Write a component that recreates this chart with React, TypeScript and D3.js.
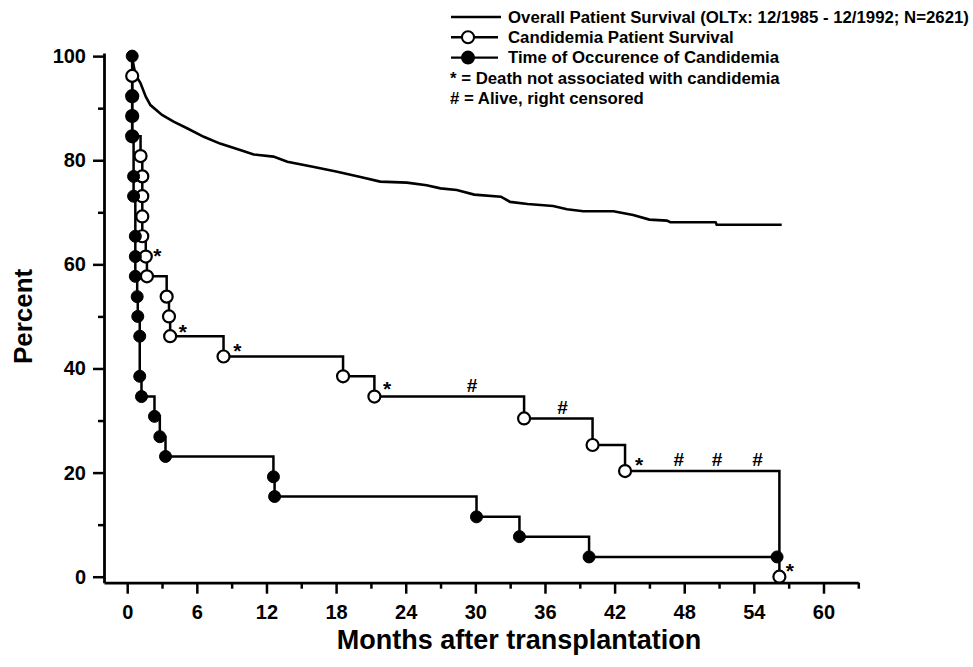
import React, { useEffect, useRef } from "react";
import * as d3 from "d3";

const WIDTH = 973;
const HEIGHT = 667;
const FONT = "'Liberation Sans', Arial, sans-serif";

// Overall patient survival (OLTx 12/1985 - 12/1992, N=2621)
const overallMonths = [0.4, 0.7, 1.15, 1.6, 2.0, 3.0, 4.0, 5.2, 6.6, 8.0, 9.8, 10.9, 12.6, 13.8, 16.1, 18.1, 20.1, 21.8, 24.1, 25.8, 27.0, 28.4, 29.9, 32.2, 33.0, 34.5, 36.7, 37.9, 39.3, 41.9, 43.6, 45.0, 46.5, 46.8, 50.7, 50.8, 56.4];
const overallPct = [100, 96.5, 94.8, 92.2, 90.6, 88.7, 87.4, 86.1, 84.5, 83.2, 81.9, 81.1, 80.7, 79.7, 78.7, 77.8, 76.8, 75.9, 75.7, 75.2, 74.6, 74.3, 73.4, 73.0, 72.0, 71.6, 71.2, 70.6, 70.2, 70.2, 69.5, 68.6, 68.4, 68.1, 68.1, 67.6, 67.6];

// Candidemia patient survival (open circles), first point = start of curve
const candMonths = [0.43, 0.43, 0.43, 0.43, 0.43, 1.15, 1.3, 1.3, 1.3, 1.3, 1.6, 1.7, 3.4, 3.6, 3.7, 8.3, 18.6, 21.3, 34.2, 40.1, 42.9, 56.2];
const candPct = [100, 96.2, 92.3, 88.5, 84.6, 80.8, 76.9, 73.1, 69.2, 65.4, 61.5, 57.7, 53.8, 50.0, 46.2, 42.3, 38.5, 34.6, 30.4, 25.3, 20.3, 0];

// Time of occurrence of candidemia (filled circles)
const occMonths = [0.43, 0.43, 0.43, 0.43, 0.55, 0.55, 0.7, 0.7, 0.7, 0.86, 0.91, 1.08, 1.08, 1.23, 2.35, 2.81, 3.3, 12.6, 12.7, 30.1, 33.8, 39.8, 56.0];
const occPct = [100, 92.3, 88.5, 84.6, 76.9, 73.1, 65.4, 61.5, 57.7, 53.8, 50.0, 46.2, 38.5, 34.6, 30.8, 26.9, 23.1, 19.2, 15.4, 11.5, 7.7, 3.8, 3.8];

// "*" deaths not associated with candidemia, "#" alive / right censored
const deathMonths = [2.6, 4.8, 9.5, 22.4, 44.1, 57.1];
const deathPct = [62.6, 48.1, 44.5, 37.1, 22.6, 2.2];
const censorMonths = [29.7, 37.5, 47.5, 50.8, 54.3];
const censorPct = [36.8, 32.6, 22.5, 22.5, 22.5];

const xMajor = [0, 6, 12, 18, 24, 30, 36, 42, 48, 54, 60];
const xMinor = [3, 9, 15, 21, 27, 33, 39, 45, 51, 57, 63];
const yMajor = [0, 20, 40, 60, 80, 100];
const yMinor = [10, 30, 50, 70, 90];

const legendLabels = [
  "Overall Patient Survival (OLTx: 12/1985 - 12/1992; N=2621)",
  "Candidemia Patient Survival",
  "Time of Occurence of Candidemia",
  "* = Death not associated with candidemia",
  "# = Alive, right censored",
];

const App = () => {
  const svgRef = useRef<SVGSVGElement | null>(null);

  useEffect(() => {
    if (!svgRef.current) return;
    const svg = d3.select(svgRef.current);
    svg.selectAll("*").remove();

    const x = d3.scaleLinear().domain([-2, 63]).range([104, 858.3]);
    const y = d3.scaleLinear().domain([-1.15, 100.6]).range([582.7, 53]);

    // axes
    const styleAxis = (g: any, fontSize: number) => {
      g.selectAll("path").attr("stroke", "#000").attr("stroke-width", 2.8);
      g.selectAll("line").attr("stroke", "#000").attr("stroke-width", 2.5);
      g.selectAll("text")
        .attr("fill", "#000")
        .style("font-family", FONT)
        .style("font-weight", "bold")
        .style("font-size", fontSize + "px");
    };

    const gx = svg.append("g").attr("transform", `translate(0,${y.range()[0]})`);
    gx.call(d3.axisBottom(x).tickValues(xMajor).tickSize(11).tickPadding(11).tickSizeOuter(0));
    styleAxis(gx, 20);
    const gxm = svg.append("g").attr("transform", `translate(0,${y.range()[0]})`);
    gxm.call(d3.axisBottom(x).tickValues(xMinor).tickSize(6).tickFormat(() => "").tickSizeOuter(0));
    gxm.select("path").remove();
    styleAxis(gxm, 20);

    const gy = svg.append("g").attr("transform", `translate(${x.range()[0]},0)`);
    gy.call(d3.axisLeft(y).tickValues(yMajor).tickSize(11).tickPadding(7).tickSizeOuter(0));
    styleAxis(gy, 20);
    const gym = svg.append("g").attr("transform", `translate(${x.range()[0]},0)`);
    gym.call(d3.axisLeft(y).tickValues(yMinor).tickSize(6).tickFormat(() => "").tickSizeOuter(0));
    gym.select("path").remove();
    styleAxis(gym, 20);

    // axis titles
    svg.append("text")
      .attr("x", 519).attr("y", 649)
      .attr("text-anchor", "middle")
      .style("font-family", FONT).style("font-weight", "bold").style("font-size", "27px")
      .text("Months after transplantation");
    svg.append("text")
      .attr("transform", `translate(32,${(y(0) + y(100)) / 2}) rotate(-90)`)
      .attr("text-anchor", "middle")
      .style("font-family", FONT).style("font-weight", "bold").style("font-size", "26px")
      .text("Percent");

    // overall survival
    const overall = overallMonths.map((m, i) => [m, overallPct[i]] as [number, number]);
    const lineLin = d3.line<[number, number]>().x(d => x(d[0])).y(d => y(d[1]));
    svg.append("path").datum(overall)
      .attr("d", lineLin).attr("fill", "none").attr("stroke", "#000").attr("stroke-width", 2.6);

    const stepLine = d3.line<[number, number]>().x(d => x(d[0])).y(d => y(d[1])).curve(d3.curveStepAfter);

    const cand = candMonths.map((m, i) => [m, candPct[i]] as [number, number]);
    const occ = occMonths.map((m, i) => [m, occPct[i]] as [number, number]);

    svg.append("path").datum(cand)
      .attr("d", stepLine).attr("fill", "none").attr("stroke", "#000").attr("stroke-width", 2.5);
    svg.append("path").datum(occ)
      .attr("d", stepLine).attr("fill", "none").attr("stroke", "#000").attr("stroke-width", 2.5);

    const r = 6;
    cand.slice(1).forEach(d => {
      svg.append("circle")
        .attr("cx", x(d[0])).attr("cy", y(d[1])).attr("r", r)
        .attr("fill", "#fff").attr("stroke", "#000").attr("stroke-width", 2.2);
    });
    occ.forEach(d => {
      svg.append("circle")
        .attr("cx", x(d[0])).attr("cy", y(d[1])).attr("r", r)
        .attr("fill", "#000").attr("stroke", "#000").attr("stroke-width", 1);
    });

    // annotations
    deathMonths.forEach((m, i) => {
      svg.append("text")
        .attr("x", x(m)).attr("y", y(deathPct[i])).attr("dy", "0.6em")
        .attr("text-anchor", "middle")
        .style("font-family", FONT).style("font-weight", "bold").style("font-size", "21px")
        .text("*");
    });
    censorMonths.forEach((m, i) => {
      svg.append("text")
        .attr("x", x(m)).attr("y", y(censorPct[i])).attr("dy", "0.36em")
        .attr("text-anchor", "middle")
        .style("font-family", FONT).style("font-weight", "bold").style("font-style", "italic").style("font-size", "19px")
        .text("#");
    });

    // legend
    const lg = svg.append("g");
    const rowY = (i: number) => 17 + i * 20.3;
    legendLabels.forEach((label, i) => {
      lg.append("text")
        .attr("x", i < 3 ? 508 : 450).attr("y", rowY(i)).attr("dy", "0.35em")
        .style("font-family", FONT).style("font-weight", "bold").style("font-size", "16.8px")
        .text(label);
    });
    lg.append("line").attr("x1", 451).attr("x2", 501).attr("y1", rowY(0)).attr("y2", rowY(0))
      .attr("stroke", "#000").attr("stroke-width", 2.4);
    [1, 2].forEach(i => {
      lg.append("line").attr("x1", 451).attr("x2", 498).attr("y1", rowY(i)).attr("y2", rowY(i))
        .attr("stroke", "#000").attr("stroke-width", 2.4);
      lg.append("circle").attr("cx", 468).attr("cy", rowY(i)).attr("r", 6)
        .attr("fill", i === 1 ? "#fff" : "#000").attr("stroke", "#000").attr("stroke-width", 2);
    });
  }, []);

  return (
    <svg
      ref={svgRef}
      width={WIDTH}
      height={HEIGHT}
      style={{ position: "absolute", left: 0, top: 0, background: "#fff" }}
    />
  );
};

export default App;
